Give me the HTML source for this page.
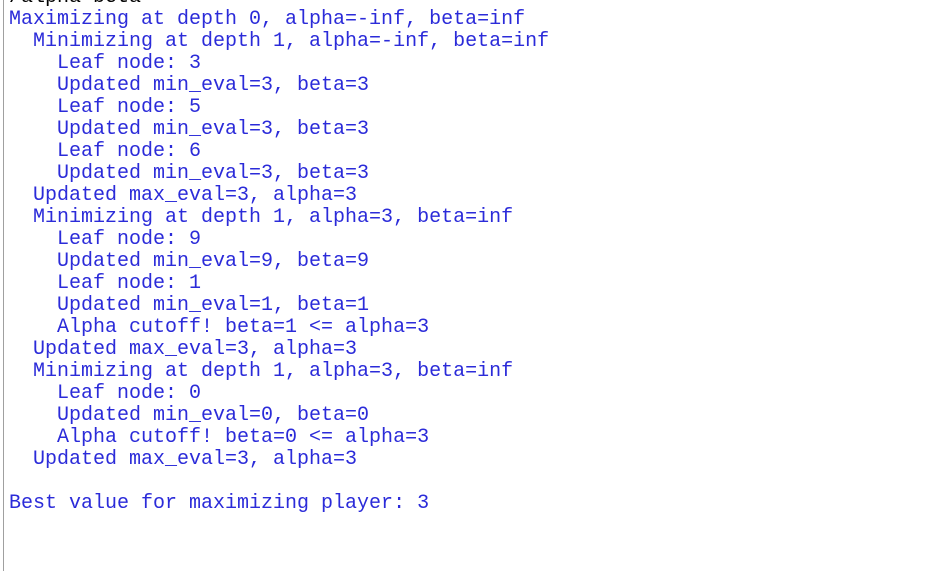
<!DOCTYPE html>
<html><head><style>
html,body{margin:0;padding:0;background:#fff;width:944px;height:571px;overflow:hidden;position:relative}
.b{position:absolute;left:3px;top:0;width:1px;height:571px;background:#a0a0a0}
pre{position:absolute;left:9px;top:-13px;margin:0;font-family:"Liberation Mono",monospace;font-size:20px;line-height:22px;color:#2b2bd9}
.k{color:#000}
</style></head><body>
<div class="b"></div>
<pre><span class="k">/alpha-beta</span>
Maximizing at depth 0, alpha=-inf, beta=inf
  Minimizing at depth 1, alpha=-inf, beta=inf
    Leaf node: 3
    Updated min_eval=3, beta=3
    Leaf node: 5
    Updated min_eval=3, beta=3
    Leaf node: 6
    Updated min_eval=3, beta=3
  Updated max_eval=3, alpha=3
  Minimizing at depth 1, alpha=3, beta=inf
    Leaf node: 9
    Updated min_eval=9, beta=9
    Leaf node: 1
    Updated min_eval=1, beta=1
    Alpha cutoff! beta=1 &lt;= alpha=3
  Updated max_eval=3, alpha=3
  Minimizing at depth 1, alpha=3, beta=inf
    Leaf node: 0
    Updated min_eval=0, beta=0
    Alpha cutoff! beta=0 &lt;= alpha=3
  Updated max_eval=3, alpha=3

Best value for maximizing player: 3</pre>
</body></html>
